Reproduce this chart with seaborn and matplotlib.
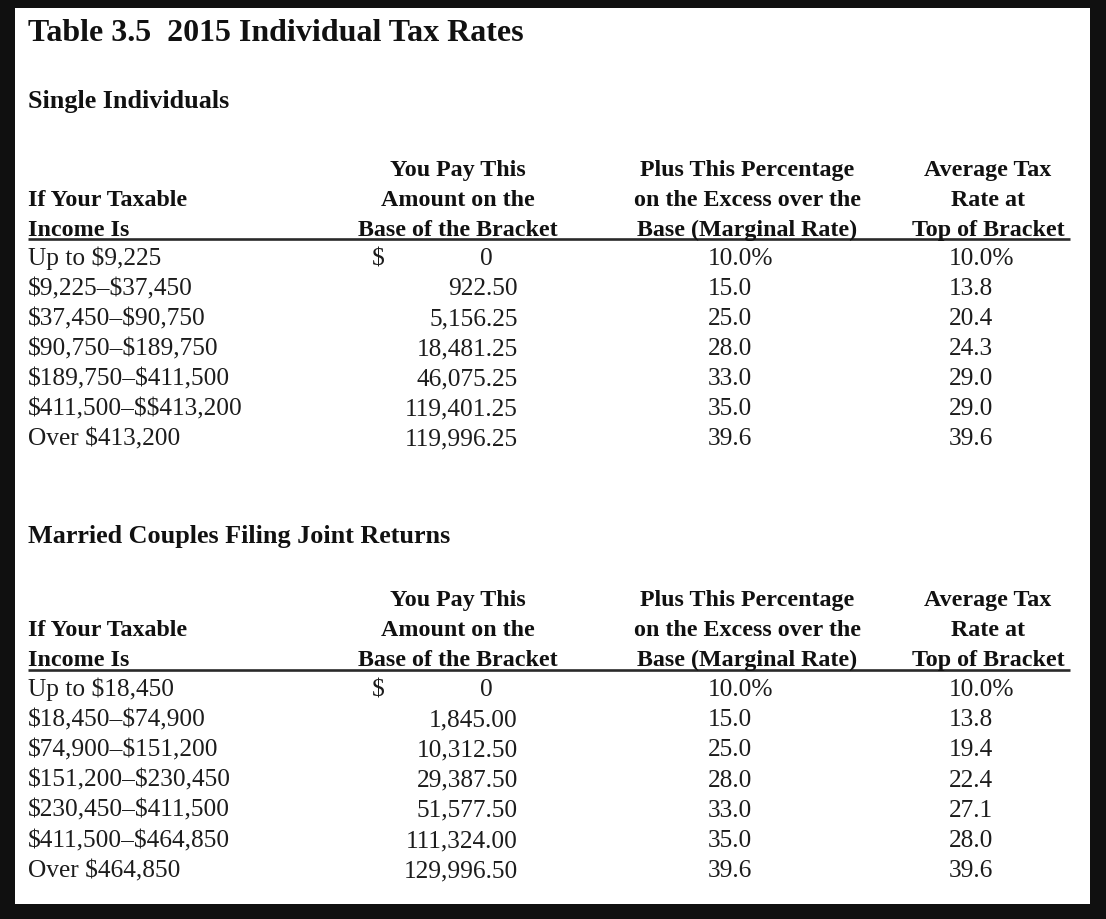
import matplotlib
matplotlib.use("Agg")
import matplotlib.pyplot as plt
import seaborn as sns

sns.set_theme(style="white")
plt.rcParams['font.family'] = ['Liberation Serif', 'DejaVu Serif']

# table content
title = "Table 3.5  2015 Individual Tax Rates"
col_headers = [
    ["", "If Your Taxable", "Income Is"],
    ["You Pay This", "Amount on the", "Base of the Bracket"],
    ["Plus This Percentage", "on the Excess over the", "Base (Marginal Rate)"],
    ["Average Tax", "Rate at", "Top of Bracket"],
]

single_title = "Single Individuals"
single_income = ["Up to $9,225", "$9,225–$37,450", "$37,450–$90,750", "$90,750–$189,750",
                 "$189,750–$411,500", "$411,500–$$413,200", "Over $413,200"]
single_base = ["0", "922.50", "5,156.25", "18,481.25", "46,075.25", "119,401.25", "119,996.25"]
single_marginal = ["10.0%", "15.0", "25.0", "28.0", "33.0", "35.0", "39.6"]
single_average = ["10.0%", "13.8", "20.4", "24.3", "29.0", "29.0", "39.6"]

married_title = "Married Couples Filing Joint Returns"
married_income = ["Up to $18,450", "$18,450–$74,900", "$74,900–$151,200", "$151,200–$230,450",
                  "$230,450–$411,500", "$411,500–$464,850", "Over $464,850"]
married_base = ["0", "1,845.00", "10,312.50", "29,387.50", "51,577.50", "111,324.00", "129,996.50"]
married_marginal = ["10.0%", "15.0", "25.0", "28.0", "33.0", "35.0", "39.6"]
married_average = ["10.0%", "13.8", "19.4", "22.4", "27.1", "28.0", "39.6"]

# layout in pixel units of the page
W, H = 1106, 920
left, right = 28, 1070
x_dollar, x_zero, x_num = 372, 493, 518
x_marg, x_avg = 708, 949
head_centers = [None, 458, 747, 988]

txt = "#1c1c1c"
head_fs, data_fs = 17.3, 18.3

fig = plt.figure(figsize=(W / 100, H / 100), dpi=100, facecolor="#101010")
ax = fig.add_axes([15 / W, (H - 905) / H, (1090 - 15) / W, (905 - 9) / H])
ax.set_xlim(15, 1090)
ax.set_ylim(905, 9)
ax.set_facecolor("white")
ax.set_xticks([])
ax.set_yticks([])
for s in ax.spines.values():
    s.set_visible(False)


def put(x, y, s, **kw):
    kw.setdefault("color", txt)
    kw.setdefault("va", "baseline")
    ax.text(x, y, s, parse_math=False, **kw)


put(left, 41, title, fontsize=23, fontweight="bold", color="#111")


def draw_block(sec_title, sec_y, head_y, rule_y, row_y, row_h, income, base, marg, avg):
    put(left, sec_y, sec_title, fontsize=18.8, fontweight="bold", color="#111")
    for c, lines in enumerate(col_headers):
        for i, line in enumerate(lines):
            y = head_y + i * 30
            if c == 0:
                put(left, y, line, fontsize=head_fs, fontweight="bold", color="#111", ha="left")
            else:
                put(head_centers[c], y, line, fontsize=head_fs, fontweight="bold",
                    color="#111", ha="center")
    ax.plot([left, right], [rule_y, rule_y], color="#2a2a2a", lw=1.9, solid_capstyle="butt")
    for i in range(len(income)):
        y = row_y + i * row_h
        put(left, y, income[i], fontsize=data_fs)
        if "." in base[i]:
            put(x_num, y, base[i], fontsize=data_fs, ha="right")
        else:
            put(x_zero, y, base[i], fontsize=data_fs, ha="right")
        if i == 0:
            put(x_dollar, y, "$", fontsize=data_fs, ha="left")
        put(x_marg, y, marg[i], fontsize=data_fs, ha="left")
        put(x_avg, y, avg[i], fontsize=data_fs, ha="left")


draw_block(single_title, 108, 176, 240, 265, 30, single_income, single_base,
           single_marginal, single_average)
draw_block(married_title, 543, 606, 671, 696, 30.2, married_income, married_base,
           married_marginal, married_average)

fig.savefig("out.png", dpi=100, facecolor=fig.get_facecolor())
